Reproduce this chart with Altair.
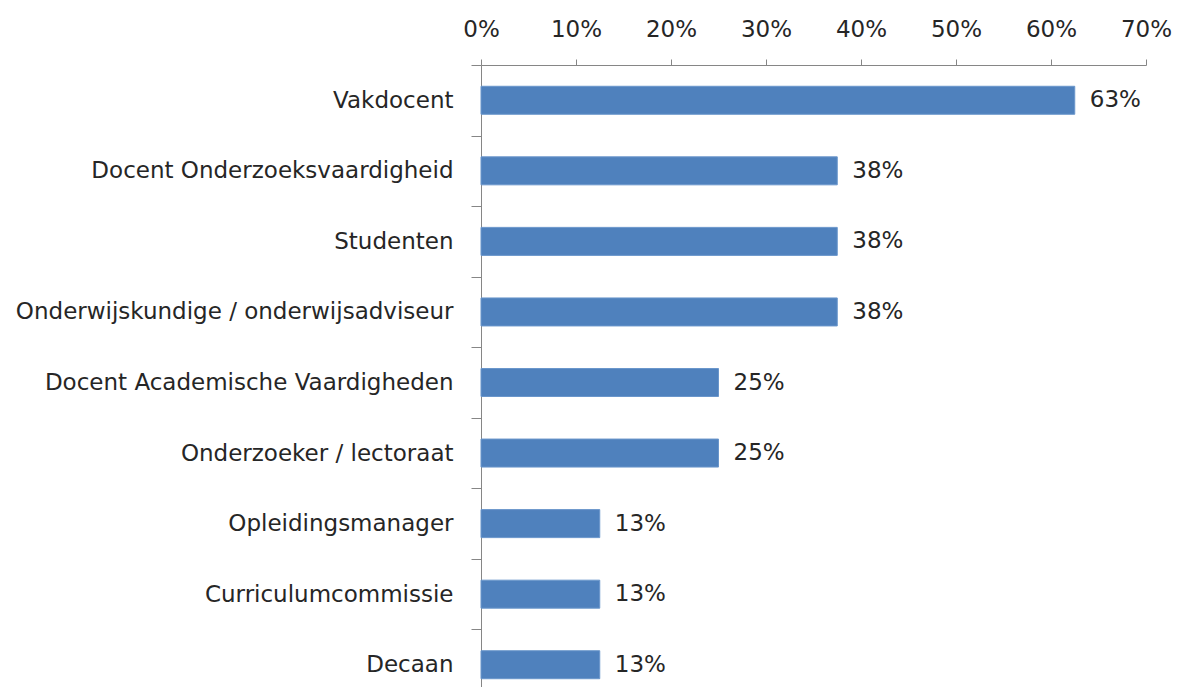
import altair as alt
import pandas as pd

categories = [
    "Vakdocent",
    "Docent Onderzoeksvaardigheid",
    "Studenten",
    "Onderwijskundige / onderwijsadviseur",
    "Docent Academische Vaardigheden",
    "Onderzoeker / lectoraat",
    "Opleidingsmanager",
    "Curriculumcommissie",
    "Decaan",
]
values = [0.625, 0.375, 0.375, 0.375, 0.25, 0.25, 0.125, 0.125, 0.125]
x_ticks = [0, 0.1, 0.2, 0.3, 0.4, 0.5, 0.6, 0.7]

df = pd.DataFrame({"cat": categories, "val": values})

FONT = "DejaVu Sans"
FS = 23
TXT = "#262626"
AX = "#868686"

y_enc = alt.Y(
    "cat:N",
    sort=categories,
    title=None,
    scale=alt.Scale(range=[0, 635], paddingInner=0, paddingOuter=0),
    axis=alt.Axis(
        tickBand="extent",
        tickSize=10,
        labelPadding=18,
        labelFontSize=FS,
        labelFont=FONT,
        labelColor=TXT,
        domainColor=AX,
        tickColor=AX,
        labelLimit=600,
        grid=False,
    ),
)

x_enc = alt.X(
    "val:Q",
    title=None,
    scale=alt.Scale(domain=[0, 0.7], nice=False),
    axis=alt.Axis(
        orient="top",
        values=x_ticks,
        format=".0%",
        grid=False,
        tickSize=6,
        labelPadding=18,
        labelFlush=False,
        labelFontSize=FS,
        labelFont=FONT,
        labelColor=TXT,
        domainColor=AX,
        tickColor=AX,
    ),
)

bars = alt.Chart(df).mark_bar(
    color="#4F81BD", stroke="#6A96CB", strokeWidth=1, size=28
).encode(x=x_enc, y=y_enc)

labels = alt.Chart(df).mark_text(
    align="left", baseline="middle", dx=15, fontSize=FS, font=FONT, color=TXT
).encode(
    x=alt.X("val:Q"),
    y=alt.Y("cat:N", sort=categories),
    text=alt.Text("val:Q", format=".0%"),
)

chart = (
    alt.layer(bars, labels)
    .properties(
        width=665,
        height=622,
        background="white",
        autosize=alt.AutoSizeParams(type="none"),
        padding={"left": 473, "top": 57, "right": 26, "bottom": 0},
    )
    .configure_view(stroke="transparent", strokeWidth=0)
)

chart.save("out.html", embed_options={"renderer": "svg", "actions": False})
